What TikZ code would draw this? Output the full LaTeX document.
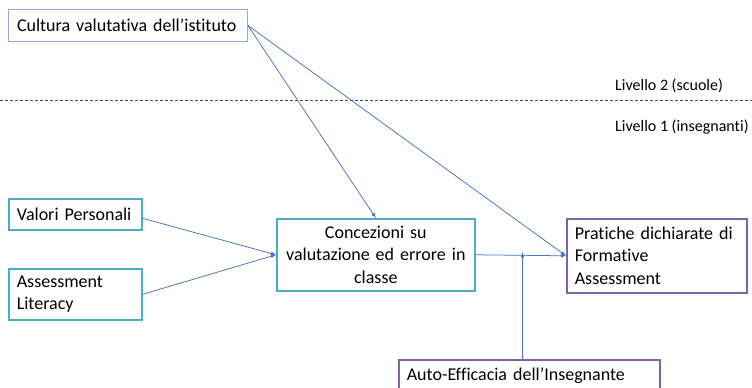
\documentclass[tikz,border=0pt]{standalone}
\usepackage{fontspec}
\setmainfont{Carlito}[Ligatures=NoCommon]
\usetikzlibrary{calc}

\definecolor{greyblue}{RGB}{143,170,220}
\definecolor{teal}{RGB}{75,172,198}
\definecolor{violet}{RGB}{128,100,162}
\definecolor{link}{RGB}{68,114,196}

\begin{document}
\begin{tikzpicture}[x=1pt, y=-1pt,
  font=\fontsize{18}{22.5}\selectfont,
  box/.style={rectangle, anchor=north west, inner xsep=8pt, inner ysep=0pt, align=left},
  tealbox/.style={box, draw=teal, line width=1.6pt},
  violetbox/.style={box, draw=violet, line width=1.6pt},
  arrow/.style={-latex, draw=link, line width=0.75pt},
  divider/.style={draw=black!70, dashed, line width=0.6pt, dash pattern=on 3pt off 2pt}]
\useasboundingbox (0,0) rectangle (752,388);

\node[box, draw=greyblue, line width=1pt,
  minimum width=239pt, minimum height=32pt, text width=222pt,
  inner xsep=8.5pt] (cultura) at (8,9) {Cultura valutativa dell’istituto};

\draw[divider] (0,100) -- (752,100);
\node[anchor=west, inner sep=0pt, font=\fontsize{16}{19}\selectfont] (liv2) at (615,86) {Livello 2 (scuole)};
\node[anchor=west, inner sep=0pt, font=\fontsize{16}{19}\selectfont] (liv1) at (615,127) {Livello 1 (insegnanti)};

\node[tealbox, minimum width=133pt, minimum height=31pt, text width=117pt] (valori) at (8,198) {Valori Personali};
\node[tealbox, minimum width=133pt, minimum height=51pt, text width=117pt] (literacy) at (8,268) {Assessment\\Literacy};
\node[tealbox, minimum width=198pt, minimum height=72pt, text width=182pt,
  align=center] (concezioni) at (276,218) {Concezioni su\\valutazione ed errore in\\classe};
\node[violetbox, minimum width=180pt, minimum height=74pt, text width=164pt] (pratiche) at (566,218) {Pratiche dichiarate di\\Formative\\Assessment};
\node[violetbox, minimum width=261pt, minimum height=31pt, text width=245pt] (auto) at (398,359) {Auto-Efficacia dell’Insegnante};

\coordinate (meet) at ($(concezioni.east)!0.52!(pratiche.west)$);

\draw[arrow] (cultura.east) -- (concezioni.north);
\draw[arrow] (cultura.east) -- (pratiche.west);
\draw[arrow] ([yshift=-4pt]valori.east) -- (concezioni.west);
\draw[arrow] (literacy.east) -- (concezioni.west);
\draw[arrow] (concezioni.east) -- (pratiche.west);
\draw[arrow] (auto.north -| meet) -- ([yshift=3pt]meet);
\end{tikzpicture}
\end{document}
